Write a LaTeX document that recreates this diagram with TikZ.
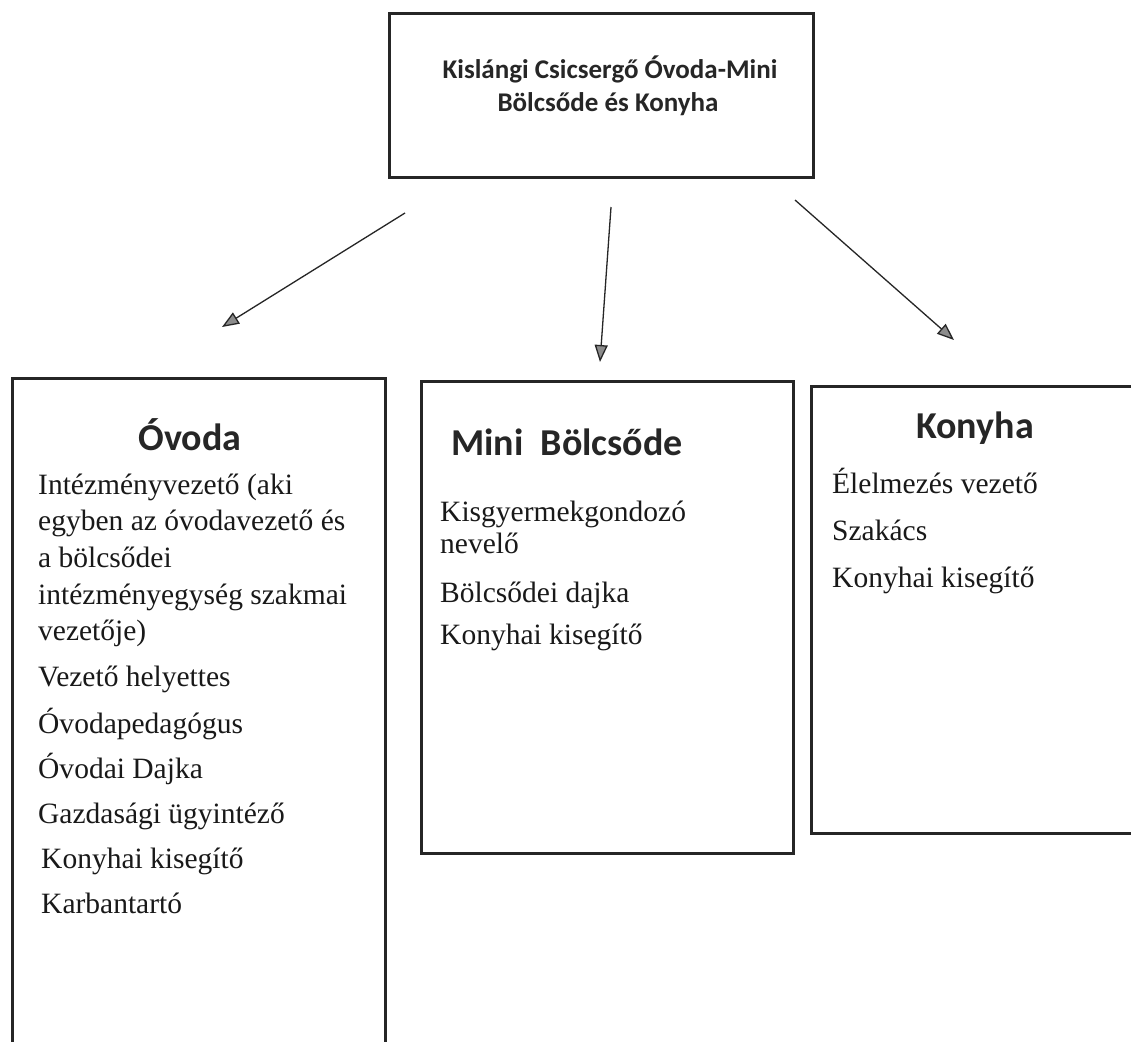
\documentclass[tikz,border=0pt]{standalone}
\usepackage{fontspec}
\setmainfont{Liberation Serif}
\newfontfamily\titlefont{Carlito}[BoldFont={* Bold}]
\usetikzlibrary{arrows.meta}
\tikzset{
  frame/.style={draw=black!85, line width=3pt, line join=miter},
  headtxt/.style={font=\titlefont\bfseries\fontsize{27}{32}\selectfont, text=black!85, anchor=base, inner sep=0pt},
  subtitle/.style={font=\titlefont\bfseries\fontsize{38}{42}\selectfont, text=black!85, anchor=base, inner sep=0pt},
  item/.style={font=\fontsize{29.5}{35}\selectfont, text=black!90, anchor=base west, inner sep=0pt},
  link/.style={draw=black!85, line width=1.3pt, -{Triangle[length=17pt,width=13pt,fill=black!45]}},
}
\begin{document}
\begin{tikzpicture}[x=1pt,y=-1pt]
\useasboundingbox[fill=white] (0,0) rectangle (1131,1041);
% top box
\node[frame, minimum width=424pt, minimum height=164pt, anchor=north west, inner sep=0pt] (topbox) at (388,12) {};
\node[headtxt] (t1) at (610,78) {Kislángi Csicsergő Óvoda-Mini};
\node[headtxt] (t2) at (608,111) {Bölcsőde és Konyha};
% boxes
\draw[frame] (12,1060) -- (12,378) -- (385,378) -- (385,1060);
\coordinate (ovtop) at (198,378);
\node[frame, minimum width=372pt, minimum height=472pt, anchor=north west, inner sep=0pt] (mini) at (420,380) {};
\node[frame, minimum width=340pt, minimum height=447pt, anchor=north west, inner sep=0pt] (konyha) at (810,385) {};
% arrows
\coordinate (a1s) at (405,213); \coordinate (a1e) at (222,327);
\coordinate (a2s) at (611,207); \coordinate (a2e) at (600,362);
\coordinate (a3s) at (795,200); \coordinate (a3e) at (954,340);
\draw[link] (a1s) -- (a1e);
\draw[link] (a2s) -- (a2e);
\draw[link] (a3s) -- (a3e);
% Óvoda
\node[subtitle] (ovh) at (190,450) {Óvoda};
\node[item] (o1) at (38,494) {Intézményvezető (aki};
\node[item] (o2) at (38,530) {egyben az óvodavezető és};
\node[item] (o3) at (38,567) {a bölcsődei};
\node[item] (o4) at (38,604) {intézményegység szakmai};
\node[item] (o5) at (38,640) {vezetője)};
\node[item] (o6) at (38,686) {Vezető helyettes};
\node[item] (o7) at (38,733) {Óvodapedagógus};
\node[item] (o8) at (38,778) {Óvodai Dajka};
\node[item] (o9) at (38,823) {Gazdasági ügyintéző};
\node[item] (o10) at (41,868) {Konyhai kisegítő};
\node[item] (o11) at (41,913) {Karbantartó};
% Mini Bölcsőde
\node[subtitle] (mh) at (567,455) {Mini\ \ Bölcsőde};
\node[item] (m1) at (440,521) {Kisgyermekgondozó};
\node[item] (m2) at (440,553) {nevelő};
\node[item] (m3) at (440,602) {Bölcsődei dajka};
\node[item] (m4) at (440,644) {Konyhai kisegítő};
% Konyha
\node[subtitle] (kh) at (975,438) {Konyha};
\node[item] (k1) at (832,493) {Élelmezés vezető};
\node[item] (k2) at (832,540) {Szakács};
\node[item] (k3) at (832,587) {Konyhai kisegítő};
\end{tikzpicture}
\end{document}
